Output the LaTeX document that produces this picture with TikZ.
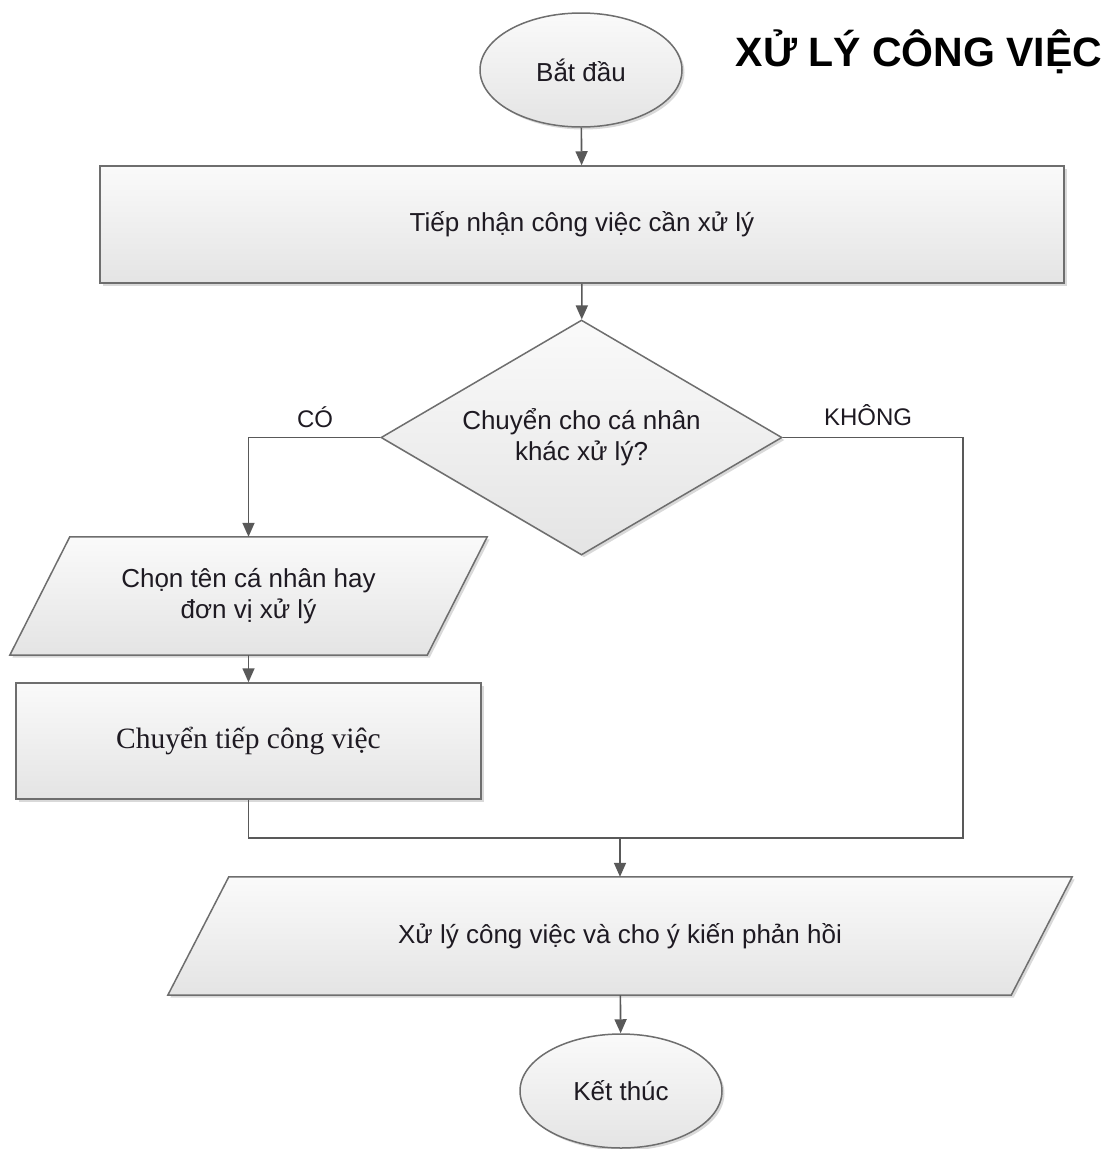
\documentclass[tikz,border=0pt]{standalone}
\usepackage{fontspec}
\setmainfont{Liberation Sans}
\newfontfamily\serifface{Liberation Serif}
\usetikzlibrary{shapes.geometric,arrows.meta,shadows,backgrounds,calc}

\pgfdeclarelayer{backdrop}
\pgfsetlayers{backdrop,background,main}

\definecolor{edgegray}{HTML}{6E6E6E}
\definecolor{linkgray}{HTML}{595959}
\definecolor{inkdark}{HTML}{1E1A22}
\definecolor{filltop}{HTML}{FAFAFA}
\definecolor{fillbot}{HTML}{E4E4E4}

\tikzset{
  shapefill/.style={draw=edgegray, line width=1.5pt,
    top color=filltop, bottom color=fillbot,
    drop shadow={shadow xshift=2.5pt, shadow yshift=-2.5pt, opacity=0.15, fill=black}},
  label text/.style={text=inkdark, font=\fontsize{26}{31}\selectfont, align=center},
  terminal/.style={shapefill, label text, ellipse, minimum width=202pt, minimum height=114pt, inner sep=0pt},
  process/.style={shapefill, label text, rectangle, inner sep=0pt},
  decision/.style={shapefill, label text, diamond, aspect=1.7, minimum width=401pt, minimum height=235pt, inner sep=0pt},
  slanted/.style={label text, rectangle, inner sep=0pt},
  link/.style={draw=linkgray, line width=1.6pt},
  flow/.style={link, -{Triangle[length=14pt, width=12pt]}},
  branch text/.style={text=inkdark, font=\fontsize{24}{24}\selectfont, anchor=base},
}

\begin{document}
\begin{tikzpicture}[x=1pt, y=-1pt]
  \begin{pgfonlayer}{backdrop}
    \fill[white] (0,0) rectangle (1108,1149);
  \end{pgfonlayer}
  \useasboundingbox (0,0) rectangle (1108,1149);

  % heading
  \node[text=black, font=\fontsize{41}{41}\bfseries\selectfont, anchor=base] (title) at (919,66) {XỬ LÝ CÔNG VIỆC};

  % flowchart nodes
  \node[terminal] (start) at (581,70) {Bắt đầu};
  \node[process, minimum width=964pt, minimum height=117pt] (receive) at (582,224.5) {Tiếp nhận công việc cần xử lý};
  \node[decision] (ask) at (581.5,437.5) {Chuyển cho cá nhân\\khác xử lý?};
  \node[slanted, minimum width=477pt, minimum height=118pt] (choose) at (248.5,596) {Chọn tên cá nhân hay\\đơn vị xử lý};
  \node[process, minimum width=465pt, minimum height=116pt, font=\serifface\fontsize{29.5}{32}\selectfont] (forward) at (248.5,741) {Chuyển tiếp công việc};
  \node[slanted, minimum width=904pt, minimum height=118pt] (handle) at (620,936) {Xử lý công việc và cho ý kiến phản hồi};
  \node[terminal] (finish) at (621,1091) {Kết thúc};

  % parallelogram outlines behind the input/output nodes
  \begin{scope}[on background layer]
    \path[shapefill] ($(choose.north west)+(60pt,0)$) -- (choose.north east)
      -- ($(choose.south east)+(-60pt,0)$) -- (choose.south west) -- cycle;
    \path[shapefill] ($(handle.north west)+(61pt,0)$) -- (handle.north east)
      -- ($(handle.south east)+(-61pt,0)$) -- (handle.south west) -- cycle;
  \end{scope}

  % bends of the connectors
  \coordinate (merge) at (620,838);
  \coordinate (nobend) at (963,838);

  % connectors
  \draw[flow] (start) -- (receive);
  \draw[flow] (receive) -- (ask);
  \draw[flow] (ask.west) -| (choose.north);
  \draw[flow] (choose) -- (forward);
  \draw[link] (ask.east) -| (nobend) -- (merge);
  \draw[link] (forward.south) |- (merge);
  \draw[flow] (merge) -- (handle.north);
  \draw[flow] (handle) -- (finish);

  % branch labels
  \node[branch text] (yes) at (315,427) {CÓ};
  \node[branch text] (no) at (868,425) {KHÔNG};
\end{tikzpicture}
\end{document}
